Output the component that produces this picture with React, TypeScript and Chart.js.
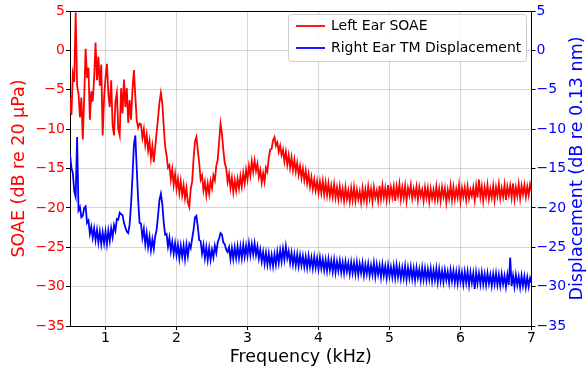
import React, { useEffect, useRef } from 'react';
import { Chart, registerables } from 'chart.js';

Chart.register(...registerables);

// ---- data ----
const FREQ_START_KHZ = 0.5;
const FREQ_STEP_KHZ = 0.02;
const X_TICKS = [1, 2, 3, 4, 5, 6, 7];
const Y_TICKS = [-35, -30, -25, -20, -15, -10, -5, 0, 5];
const SERIES_LABELS = ['Left Ear SOAE', 'Right Ear TM Displacement'];
const X_TITLE = 'Frequency (kHz)';
const Y_LEFT_TITLE = 'SOAE (dB re 20 μPa)';
const Y_RIGHT_TITLE = 'Displacement (dB re 0.13 nm)';

// Left ear SOAE (dB re 20 µPa), one value every 0.02 kHz from 0.5 to 7.0 kHz
const LEFT_EAR_SOAE = [
  -6.0, -8.2, -3.0, -4.0, 4.8, -4.5, -5.5, -8.5, -6.0, -11.3,
  -6.0, 0.2, -3.5, -2.2, -8.8, -5.2, -6.5, -3.5, 1.0, -3.8,
  -0.8, -4.5, -1.8, -10.8, -6.0, -3.5, -1.7, -5.5, -7.2, -3.8,
  -9.5, -10.8, -6.5, -5.4, -10.0, -10.8, -4.8, -8.0, -3.7, -7.2,
  -4.8, -9.2, -6.3, -8.8, -5.0, -2.5, -5.8, -8.9, -9.8, -9.3,
  -9.4, -11.1, -10.0, -12.0, -10.7, -12.7, -11.5, -13.7, -12.2, -14.2,
  -12.3, -10.4, -8.6, -6.6, -5.4, -6.7, -9.6, -12.2, -13.3, -14.9,
  -14.6, -16.4, -15.1, -17.1, -15.7, -17.6, -16.3, -18.1, -16.6, -18.4,
  -17.1, -18.8, -17.5, -19.3, -19.9, -17.6, -16.7, -13.8, -11.6, -11.0,
  -12.7, -14.3, -16.4, -15.9, -17.8, -16.7, -18.4, -16.9, -18.2, -16.6,
  -17.5, -15.9, -16.5, -14.7, -13.9, -11.6, -9.3, -10.6, -12.7, -14.3,
  -15.0, -16.7, -15.7, -17.5, -16.2, -18.0, -16.5, -17.8, -16.3, -17.5,
  -16.0, -17.3, -15.6, -16.9, -15.2, -16.4, -14.7, -15.9, -14.1, -15.4,
  -14.0, -15.3, -14.4, -16.1, -15.2, -16.8, -15.6, -16.7, -14.9, -15.4,
  -13.6, -12.6, -12.5, -11.4, -11.0, -12.1, -11.7, -12.9, -12.1, -13.3,
  -12.6, -14.1, -12.9, -14.5, -13.3, -14.9, -13.6, -15.2, -13.9, -15.4,
  -14.3, -15.8, -14.7, -16.2, -15.0, -16.5, -15.3, -16.9, -15.7, -17.3,
  -16.1, -17.6, -16.4, -17.8, -16.6, -18.1, -16.7, -18.1, -16.6, -18.3,
  -16.8, -18.4, -16.9, -18.5, -17.2, -18.6, -17.0, -18.7, -17.4, -18.9,
  -17.3, -18.8, -17.6, -19.1, -17.4, -18.9, -17.8, -19.2, -17.5, -19.0,
  -17.4, -19.1, -17.7, -18.9, -17.9, -19.3, -17.5, -19.0, -17.7, -19.2,
  -17.3, -18.8, -17.6, -19.2, -17.4, -18.7, -17.8, -19.1, -17.2, -18.9,
  -17.2, -18.7, -17.5, -19.0, -17.1, -18.8, -17.4, -18.6, -17.3, -19.1,
  -17.3, -18.5, -17.0, -18.9, -17.4, -18.7, -17.2, -19.1, -17.5, -18.4,
  -17.1, -18.8, -17.6, -18.6, -17.3, -19.0, -17.4, -18.5, -17.7, -19.1,
  -17.4, -18.7, -17.5, -19.2, -17.6, -18.8, -17.7, -19.0, -17.3, -18.9,
  -17.6, -19.1, -17.4, -18.6, -17.5, -19.3, -17.7, -18.8, -17.2, -19.0,
  -17.4, -18.9, -17.6, -18.7, -17.1, -19.1, -17.5, -18.6, -17.4, -19.0,
  -17.3, -18.8, -17.7, -18.5, -17.4, -19.0, -17.2, -18.7, -16.4, -18.6,
  -17.3, -19.1, -17.4, -18.6, -17.1, -18.9, -17.6, -18.7, -17.2, -19.0,
  -17.4, -18.5, -17.0, -18.8, -17.5, -18.6, -17.1, -19.0, -17.3, -18.4,
  -17.2, -18.7, -16.9, -18.9, -17.4, -18.5, -17.0, -18.8, -17.2, -18.3,
  -17.1, -18.6, -17.3, -18.4, -17.0, -17.9,
];

// Right ear TM displacement (dB re 0.13 nm), same frequency grid
const RIGHT_EAR_TM_DISPLACEMENT = [
  -13.2, -14.9, -15.6, -17.9, -18.6, -11.0, -20.3, -19.9, -21.2, -21.0,
  -20.0, -19.8, -21.9, -21.6, -23.3, -22.4, -23.8, -22.6, -24.1, -22.8,
  -24.4, -23.0, -24.6, -23.1, -24.5, -23.0, -24.6, -22.9, -24.2, -22.6,
  -23.7, -22.2, -22.9, -21.4, -21.5, -20.6, -20.8, -20.9, -21.9, -22.5,
  -23.0, -23.2, -22.1, -19.5, -16.0, -12.0, -10.8, -15.0, -19.0, -21.9,
  -22.0, -23.8, -22.7, -24.6, -23.2, -25.0, -23.7, -25.4, -24.0, -25.2,
  -23.6, -22.8, -21.0, -19.0, -18.2, -19.5, -21.8, -23.4, -23.3, -24.9,
  -23.8, -25.5, -24.3, -25.8, -24.5, -26.0, -24.7, -26.4, -24.8, -26.2,
  -24.8, -26.5, -24.7, -26.1, -24.6, -25.1, -23.9, -22.8, -21.2, -21.0,
  -22.4, -24.1, -24.2, -25.8, -24.7, -26.4, -25.0, -26.6, -25.1, -26.6,
  -25.3, -26.3, -24.8, -25.7, -24.4, -23.9, -23.2, -23.4, -24.4, -24.6,
  -25.3, -25.6, -25.0, -26.5, -25.1, -26.5, -25.0, -26.4, -24.9, -26.4,
  -24.9, -26.4, -24.7, -26.2, -24.8, -26.1, -24.5, -26.0, -24.6, -25.9,
  -24.5, -26.0, -24.9, -26.4, -25.3, -26.8, -25.6, -27.1, -25.7, -27.2,
  -25.8, -27.3, -26.0, -27.4, -25.9, -27.2, -25.6, -27.0, -25.4, -26.8,
  -25.2, -26.6, -24.9, -26.4, -25.5, -27.0, -25.7, -27.2, -25.9, -27.3,
  -25.9, -27.4, -26.0, -27.3, -26.1, -27.5, -26.2, -27.6, -26.1, -27.5,
  -26.3, -27.7, -26.2, -27.6, -26.4, -27.8, -26.3, -27.7, -26.5, -27.9,
  -26.6, -28.0, -26.5, -27.9, -26.7, -28.1, -26.6, -28.2, -26.8, -28.0,
  -26.7, -28.2, -26.9, -28.3, -26.8, -28.1, -27.0, -28.4, -26.9, -28.3,
  -27.0, -28.4, -26.9, -28.5, -27.1, -28.3, -27.0, -28.6, -27.2, -28.4,
  -27.1, -28.6, -27.3, -28.5, -27.0, -28.7, -27.2, -28.5, -27.3, -28.8,
  -27.2, -28.6, -27.4, -28.9, -27.3, -28.7, -27.5, -28.8, -27.4, -28.9,
  -27.3, -28.8, -27.5, -29.0, -27.6, -28.9, -27.4, -29.1, -27.6, -28.9,
  -27.5, -29.0, -27.7, -29.2, -27.6, -28.9, -27.8, -29.2, -27.6, -29.1,
  -27.7, -29.2, -27.8, -29.1, -27.7, -29.3, -27.9, -29.2, -27.7, -29.4,
  -27.8, -29.3, -28.0, -29.4, -27.9, -29.2, -28.1, -29.5, -27.9, -29.3,
  -28.0, -29.5, -28.1, -29.6, -28.0, -29.4, -28.2, -29.7, -28.1, -29.5,
  -28.1, -29.8, -28.2, -29.5, -28.3, -30.3, -28.2, -29.6, -28.3, -29.7,
  -28.2, -29.7, -28.4, -29.8, -28.3, -29.6, -28.5, -29.9, -28.4, -29.7,
  -28.3, -29.8, -28.5, -29.9, -28.4, -29.7, -28.6, -30.0, -28.5, -29.8,
  -26.3, -29.9, -28.6, -30.0, -28.5, -29.8, -28.7, -30.1, -28.6, -29.9,
  -28.7, -30.1, -28.8, -30.0, -28.9, -29.5,
];

const FREQUENCIES_KHZ = LEFT_EAR_SOAE.map((_, i) => +(FREQ_START_KHZ + i * FREQ_STEP_KHZ).toFixed(2));

const FONT = 'DejaVu Sans';
const RED = '#ff0000';
const BLUE = '#0000ff';
const GRID = 'rgba(0,0,0,0.16)';
const TITLE_SIZE = 17.5;

const fmtTick = (v: number) => (v < 0 ? '\u2212' + Math.abs(v) : String(v));

const framePlugin = {
  id: 'frame',
  afterDatasetsDraw(chart: any) {
    const { ctx, chartArea: a } = chart;
    ctx.save();
    ctx.strokeStyle = '#000';
    ctx.lineWidth = 1;
    ctx.beginPath();
    ctx.moveTo(Math.round(a.left) + 0.5, Math.round(a.top) + 0.5);
    ctx.lineTo(Math.round(a.right) + 0.5, Math.round(a.top) + 0.5);
    ctx.stroke();
    ctx.restore();
  },
};

const extrasPlugin = {
  id: 'extras',
  afterDraw(chart: any) {
    const { ctx, chartArea: a } = chart;
    ctx.save();
    // right axis title, reading bottom-to-top
    ctx.translate(577, (a.top + a.bottom) / 2);
    ctx.rotate(-Math.PI / 2);
    ctx.fillStyle = BLUE;
    ctx.font = `${TITLE_SIZE}px "${FONT}"`;
    ctx.textAlign = 'center';
    ctx.textBaseline = 'middle';
    ctx.fillText(Y_RIGHT_TITLE, 0, 0);
    ctx.restore();

    // legend box
    const bx = 288.5, by = 14.5, bw = 238, bh = 47, r = 3;
    ctx.save();
    ctx.beginPath();
    ctx.moveTo(bx + r, by);
    ctx.lineTo(bx + bw - r, by);
    ctx.quadraticCurveTo(bx + bw, by, bx + bw, by + r);
    ctx.lineTo(bx + bw, by + bh - r);
    ctx.quadraticCurveTo(bx + bw, by + bh, bx + bw - r, by + bh);
    ctx.lineTo(bx + r, by + bh);
    ctx.quadraticCurveTo(bx, by + bh, bx, by + bh - r);
    ctx.lineTo(bx, by + r);
    ctx.quadraticCurveTo(bx, by, bx + r, by);
    ctx.closePath();
    ctx.fillStyle = 'rgba(255,255,255,0.85)';
    ctx.fill();
    ctx.strokeStyle = '#cccccc';
    ctx.lineWidth = 1;
    ctx.stroke();
    const datasets = chart.data.datasets;
    const rows = [26, 48];
    datasets.forEach((ds: any, i: number) => {
      const y = rows[i];
      ctx.strokeStyle = ds.borderColor;
      ctx.lineWidth = 1.8;
      ctx.beginPath();
      ctx.moveTo(296, y);
      ctx.lineTo(325, y);
      ctx.stroke();
      ctx.fillStyle = '#000';
      ctx.font = `14px "${FONT}"`;
      ctx.textAlign = 'left';
      ctx.textBaseline = 'middle';
      ctx.fillText(ds.label, 331, y);
    });
    ctx.restore();
  },
};

export default function App() {
  const ref = useRef<HTMLCanvasElement>(null);
  useEffect(() => {
    const canvas = ref.current;
    if (!canvas) return;
    const chart = new Chart(canvas, {
      type: 'line',
      data: {
        datasets: [
          {
            label: SERIES_LABELS[0],
            data: FREQUENCIES_KHZ.map((x, i) => ({ x, y: LEFT_EAR_SOAE[i] })),
            borderColor: RED,
            backgroundColor: RED,
            borderWidth: 1.8,
            pointRadius: 0,
            tension: 0,
            yAxisID: 'y',
          },
          {
            label: SERIES_LABELS[1],
            data: FREQUENCIES_KHZ.map((x, i) => ({ x, y: RIGHT_EAR_TM_DISPLACEMENT[i] })),
            borderColor: BLUE,
            backgroundColor: BLUE,
            borderWidth: 1.8,
            pointRadius: 0,
            tension: 0,
            yAxisID: 'y2',
          },
        ],
      },
      options: {
        responsive: false,
        animation: false,
        devicePixelRatio: 1,
        layout: { padding: { top: 11, left: 0, right: 0, bottom: 0 } },
        plugins: { legend: { display: false }, tooltip: { enabled: false } },
        scales: {
          x: {
            type: 'linear',
            min: 0.5,
            max: 7,
            afterBuildTicks: (s: any) => {
              s.ticks = X_TICKS.map((v) => ({ value: v }));
            },
            afterFit: (s: any) => {
              s.height = 46;
            },
            ticks: {
              color: '#000',
              font: { family: FONT, size: 14 },
              padding: 0,
              maxRotation: 0,
              autoSkip: false,
            },
            grid: { color: GRID, lineWidth: 1, tickColor: '#000', tickLength: 4 },
            border: { color: '#000', width: 1 },
            title: {
              display: true,
              text: X_TITLE,
              color: '#000',
              font: { family: FONT, size: TITLE_SIZE },
              padding: { top: 0, bottom: 4 },
            },
          },
          y: {
            type: 'linear',
            position: 'left',
            min: -35,
            max: 5,
            afterBuildTicks: (s: any) => {
              s.ticks = Y_TICKS.map((v) => ({ value: v }));
            },
            afterFit: (s: any) => {
              s.width = 70;
            },
            ticks: {
              color: RED,
              font: { family: FONT, size: 14 },
              padding: 1,
              callback: (v: any) => fmtTick(Number(v)),
            },
            grid: { color: GRID, lineWidth: 1, tickColor: '#000', tickLength: 4 },
            border: { color: '#000', width: 1 },
            title: {
              display: true,
              text: Y_LEFT_TITLE,
              color: RED,
              font: { family: FONT, size: TITLE_SIZE },
              padding: { top: 9, bottom: 0 },
            },
          },
          y2: {
            type: 'linear',
            position: 'right',
            min: -35,
            max: 5,
            afterBuildTicks: (s: any) => {
              s.ticks = Y_TICKS.map((v) => ({ value: v }));
            },
            afterFit: (s: any) => {
              s.width = 54.5;
            },
            ticks: {
              color: BLUE,
              font: { family: FONT, size: 14 },
              padding: 1,
              callback: (v: any) => fmtTick(Number(v)),
            },
            grid: { drawOnChartArea: false, tickColor: '#000', tickLength: 4 },
            border: { color: '#000', width: 1 },
          },
        },
      },
      plugins: [framePlugin, extrasPlugin],
    });
    return () => chart.destroy();
  }, []);
  return (
    <div style={{ position: 'absolute', left: 0, top: 0, width: 586, height: 372, background: '#fff' }}>
      <canvas ref={ref} width={586} height={372} style={{ display: 'block' }} />
    </div>
  );
}
